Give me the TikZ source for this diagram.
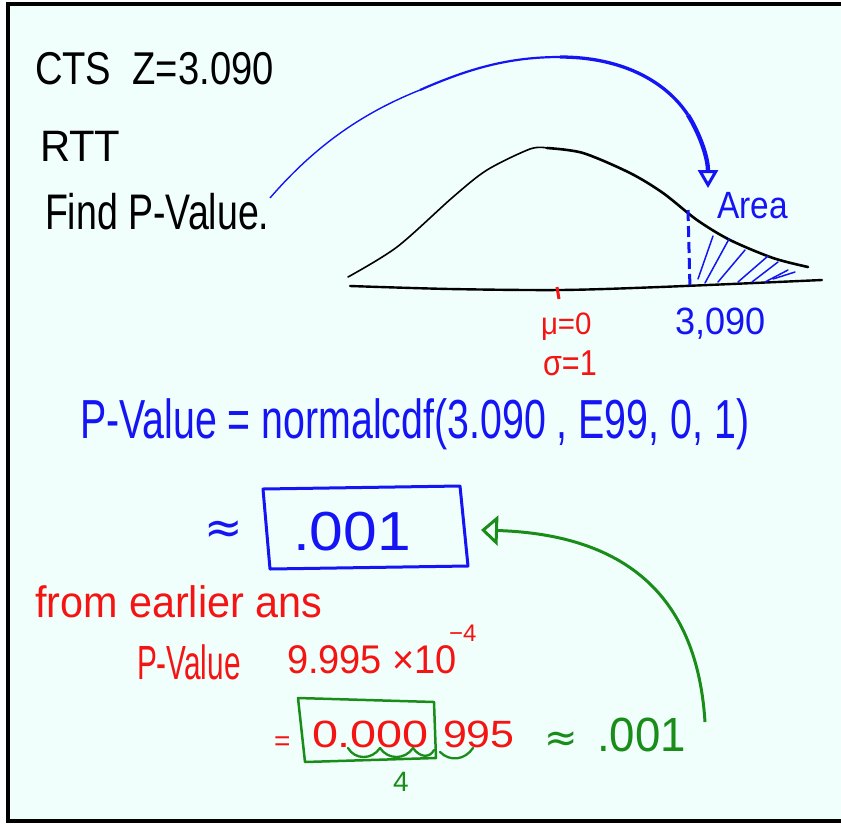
\documentclass[tikz,border=0pt]{standalone}
\usepackage{graphicx}
\usepackage{fontspec}
\setmainfont{Liberation Sans}
\newfontfamily\symfont{DejaVu Sans}
\usetikzlibrary{arrows.meta}
\definecolor{bg}{RGB}{240,255,252}
\definecolor{pblue}{RGB}{20,20,245}
\definecolor{pred}{RGB}{245,20,20}
\definecolor{pgreen}{RGB}{25,140,25}
\newcommand{\sx}[2]{\scalebox{#1}[1]{#2}}
\newcommand{\fs}[1]{\fontsize{#1}{#1}\selectfont}
\begin{document}
\begin{tikzpicture}[x=1pt,y=-1pt,
  txt/.style={anchor=base west, inner sep=0pt, outer sep=0pt},
  hatch/.style={pblue, line width=1.5pt, line cap=round},
  squig/.style={pgreen, line width=2.3pt, line cap=round}]
\useasboundingbox (0,0) rectangle (841,823);
\fill[white] (0,0) rectangle (841,823);
\fill[bg] (8,4) rectangle (841,821);
\draw[line width=4pt] (843,4) -- (8,4) -- (8,821) -- (843,821);

% black text
\node[txt] (cts) at (35,84) {\fs{46}\sx{0.83}{CTS\ \ Z=3.090}};
\node[txt] (rtt) at (40,161) {\fs{44}\sx{0.95}{RTT}};
\node[txt] (find) at (45,229) {\fs{50}\sx{0.75}{Find P-Value.}};

% normal curve
\draw[line width=1.6pt, line cap=round] plot[smooth] coordinates {(348,277) (397,247) (453,197) (487,170) (530,149) (547,148)};
\draw[line width=2.6pt, line cap=round] plot[smooth] coordinates {(547,148) (583,153) (630,173) (663,193) (697,220) (730,240) (773,258) (808,267)};
\draw[line width=2.4pt, line cap=round] plot[smooth] coordinates {(350,286) (450,289) (560,290) (660,287) (822,280)};
\draw[pred, line width=3pt] (557,287) -- (559,299);

% shaded tail
\draw[pblue, line width=3pt, dash pattern=on 11pt off 5pt] (688,210) -- (690,289);
\draw[hatch] (698,279) -- (713,236);
\draw[hatch] (705,283) -- (729,239);
\draw[hatch] (718,282) -- (745,250);
\draw[hatch] (738,282) -- (768,256);
\draw[hatch] (752,282) -- (778,262);
\draw[hatch] (765,282) -- (788,270);
\draw[hatch] (773,279) -- (795,272);

\node[txt,pblue] (area) at (717,218) {\fs{38}\sx{0.88}{Area}};
\node[txt,pred] (mu) at (541,334) {\fs{31}\sx{0.95}{μ=0}};
\node[txt,pred] (sigma) at (543,375) {\fs{36}\sx{0.85}{σ=1}};
\node[txt,pblue] (zval) at (675,334) {\fs{38}\sx{0.95}{3,090}};

% blue arc arrow
\coordinate (bstart) at (270,198);
\coordinate (b1) at (420,90);
\coordinate (bpeak) at (560,57);
\coordinate (b2) at (688,115);
\coordinate (btip) at (708,188);
\draw[pblue, line width=1.4pt] (bstart) .. controls (320,140) and (370,110) .. (b1);
\draw[pblue, line width=2.2pt] (b1) .. controls (470,68) and (510,57) .. (bpeak);
\draw[pblue, line width=3.3pt] (bpeak) .. controls (620,57) and (665,80) .. (b2);
\draw[pblue, line width=4.3pt, -{Triangle[open, length=18pt, width=20pt, line width=3pt]}] (b2) .. controls (702,138) and (708,160) .. (btip);

% P-value line
\node[txt,pblue] (pv) at (80,438) {\fs{55}\sx{0.715}{P-Value = normalcdf(3.090 , E99, 0, 1)}};

% boxed answer
\node[txt,pblue] (approx1) at (204,543) {\symfont\fs{46}≈};
\node[txt,pblue] (ans) at (293,550) {\fs{55}\sx{1.1}{.001}};
\draw[pblue, line width=3pt, line join=round] (263,489) -- (460,486) -- (468,566) -- (270,569) -- cycle;

% red text
\node[txt,pred] (from) at (35,617) {\fs{44}\sx{0.94}{from earlier ans}};
\node[txt,pred] (pv2) at (137,679) {\fs{48}\sx{0.62}{P-Value}};
\node[txt,pred] (sci) at (287,673) {\fs{40}\sx{0.95}{9.995 ×10}};
\node[txt,pred] (expo) at (449,641) {\fs{24}−4};
\node[txt,pred] (eq) at (274,750) {\fs{28}=};
\node[txt,pred] (dec) at (312,747) {\fs{38}\sx{1.23}{0.000}};
\node[txt,pred] (tail) at (443,747) {\fs{38}\sx{1.13}{995}};

% green
\draw[pgreen, line width=2.5pt, line join=round] (298,698) -- (434,702) -- (436,758) -- (305,762) -- cycle;
\draw[squig] (348,748) .. controls (355,760) and (372,760) .. (380,748);
\draw[squig] (380,748) .. controls (388,760) and (405,760) .. (413,748);
\draw[squig] (413,748) .. controls (420,758) and (430,758) .. (434,750);
\draw[squig] (440,752) .. controls (450,762) and (465,760) .. (473,748);
\node[txt,pgreen] (four) at (393,791) {\fs{28}4};
\node[txt,pgreen] (approx2) at (544,751) {\symfont\fs{40}≈};
\node[txt,pgreen] (ans2) at (597,751) {\fs{48}\sx{0.95}{.001}};

% green arrow
\coordinate (gstart) at (705,722);
\coordinate (gtip) at (481,530);
\draw[pgreen, line width=3pt, -{Triangle[open, length=17pt, width=30pt, line width=3pt]}] (gstart) .. controls (698,610) and (640,535) .. (gtip);
\end{tikzpicture}
\end{document}
